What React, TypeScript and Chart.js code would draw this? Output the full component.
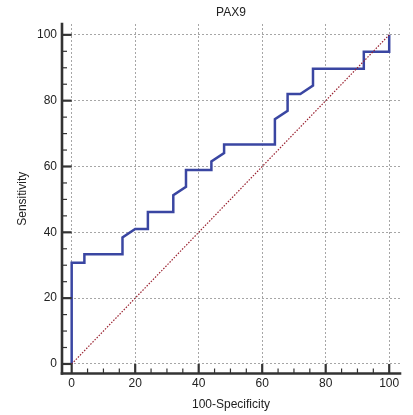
import React, { useEffect, useRef } from 'react';
import { Chart, registerables } from 'chart.js';

Chart.register(...registerables);

// ROC curve (100-Specificity vs Sensitivity)
const rocX = [0, 0, 4, 4, 16, 16, 20, 24, 24, 32, 32, 36, 36, 44, 44, 48, 48, 64, 64, 68, 68, 72, 76, 76, 92, 92, 100, 100];
const rocY = [0, 30.77, 30.77, 33.33, 33.33, 38.46, 41.03, 41.03, 46.15, 46.15, 51.28, 53.85, 58.97, 58.97, 61.54, 64.1, 66.67, 66.67, 74.36, 76.92, 82.05, 82.05, 84.62, 89.74, 89.74, 94.87, 94.87, 100];
// reference diagonal
const diagX = [0, 100];
const diagY = [0, 100];
// tick marks and labels
const tickValues = [0, 5, 10, 15, 20, 25, 30, 35, 40, 45, 50, 55, 60, 65, 70, 75, 80, 85, 90, 95, 100];
const majorTicks = [0, 20, 40, 60, 80, 100];
const chartTitle = 'PAX9';
const xTitle = '100-Specificity';
const yTitle = 'Sensitivity';

const FONT = 'Liberation Sans, Arial, Helvetica, sans-serif';

const axesPlugin = {
  id: 'rocAxes',
  afterDatasetsDraw(chart: any) {
    const { ctx, chartArea, scales } = chart;
    const xs = scales.x;
    const ys = scales.y;
    const line = (x1: number, y1: number, x2: number, y2: number) => {
      ctx.beginPath();
      ctx.moveTo(x1, y1);
      ctx.lineTo(x2, y2);
      ctx.stroke();
    };
    ctx.save();
    ctx.strokeStyle = '#333333';
    ctx.lineCap = 'butt';
    const majorLenX = chartArea.bottom - ys.getPixelForValue(0);
    const majorLenY = xs.getPixelForValue(0) - chartArea.left;
    tickValues.forEach((v) => {
      const major = majorTicks.includes(v);
      ctx.lineWidth = major ? 2.2 : 1.2;
      const px = xs.getPixelForValue(v);
      line(px, chartArea.bottom, px, chartArea.bottom - (major ? majorLenX : 5));
      const py = ys.getPixelForValue(v);
      line(chartArea.left, py, chartArea.left + (major ? majorLenY : 5), py);
    });
    ctx.lineWidth = 2.6;
    ctx.lineCap = 'square';
    line(chartArea.left, chartArea.top, chartArea.left, chartArea.bottom);
    line(chartArea.left, chartArea.bottom, chartArea.right, chartArea.bottom);
    ctx.restore();
  },
};

export default function App() {
  const ref = useRef<HTMLCanvasElement | null>(null);

  useEffect(() => {
    if (!ref.current) return;
    const font = { family: FONT, size: 12, weight: 'normal' as const };
    const gridColor = (c: any) =>
      c.tick && majorTicks.includes(c.tick.value) ? '#a6a6a6' : 'rgba(0,0,0,0)';
    const chart = new Chart(ref.current, {
      type: 'scatter',
      data: {
        datasets: [
          {
            data: diagX.map((x, i) => ({ x, y: diagY[i] })),
            showLine: true,
            borderColor: '#9a2230',
            borderWidth: 1.2,
            borderDash: [1.5, 1.5],
            pointRadius: 0,
            fill: false,
          },
          {
            data: rocX.map((x, i) => ({ x, y: rocY[i] })),
            showLine: true,
            borderColor: '#3a46a2',
            borderWidth: 2.5,
            pointRadius: 0,
            fill: false,
            tension: 0,
          },
        ],
      },
      options: {
        animation: false,
        responsive: false,
        maintainAspectRatio: false,
        layout: { padding: { left: 0, right: 13, top: 0, bottom: 0 } },
        plugins: {
          legend: { display: false },
          tooltip: { enabled: false },
          title: {
            display: true,
            text: chartTitle,
            fullSize: false,
            color: '#222222',
            font,
            padding: { top: 5.5, bottom: 4.1 },
          },
        },
        scales: {
          x: {
            type: 'linear',
            min: -3.05,
            max: 103.4,
            afterBuildTicks: (s: any) => {
              s.ticks = tickValues.map((v) => ({ value: v }));
            },
            afterFit: (s: any) => {
              s.height = 41.5;
            },
            grid: { color: gridColor, lineWidth: 1, drawTicks: false },
            border: { display: false, dash: [2, 2] },
            ticks: {
              autoSkip: false,
              maxRotation: 0,
              padding: 3.3,
              color: '#222222',
              font,
              callback: (v: any) => (majorTicks.includes(Number(v)) ? String(v) : ''),
            },
            title: {
              display: true,
              text: xTitle,
              color: '#222222',
              font,
              padding: { top: 0, bottom: 3.3 },
            },
          },
          y: {
            type: 'linear',
            min: -2.9,
            max: 103.3,
            afterBuildTicks: (s: any) => {
              s.ticks = tickValues.map((v) => ({ value: v }));
            },
            afterFit: (s: any) => {
              s.width = 62;
            },
            grid: { color: gridColor, lineWidth: 1, drawTicks: false },
            border: { display: false, dash: [2, 2] },
            ticks: {
              autoSkip: false,
              padding: 5,
              color: '#222222',
              font,
              callback: (v: any) => (majorTicks.includes(Number(v)) ? String(v) : ''),
            },
            title: {
              display: true,
              text: yTitle,
              color: '#222222',
              font,
              padding: { top: 15, bottom: 0 },
            },
          },
        },
      },
      plugins: [axesPlugin],
    });
    return () => chart.destroy();
  }, []);

  return (
    <div style={{ position: 'absolute', left: 0, top: 0, width: 413, height: 415, background: '#ffffff' }}>
      <canvas ref={ref} width={413} height={415} />
    </div>
  );
}
